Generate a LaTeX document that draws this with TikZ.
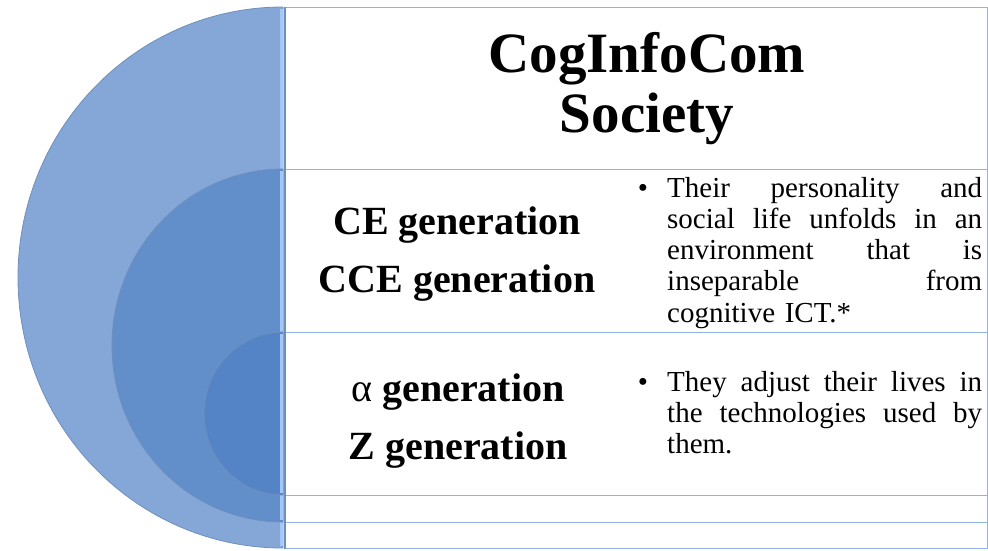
\documentclass[tikz,border=0pt]{standalone}
\usepackage{fontspec}
\setmainfont{Liberation Serif}
\definecolor{outerblue}{HTML}{84A7D7}
\definecolor{midblue}{HTML}{628FCA}
\definecolor{innerblue}{HTML}{5484C6}
\definecolor{rimblue}{HTML}{A6C6F5}
\definecolor{edgeblue}{HTML}{6E8FBD}
\definecolor{boxline}{HTML}{8FB4E3}
\newcommand{\jline}[1]{\makebox[315pt][l]{#1}\\}

\begin{document}
\begin{tikzpicture}[x=1pt,y=-1pt,
		ring/.style={draw=edgeblue,line width=0.8pt},
		rim/.style={fill=rimblue},
		row/.style={draw=boxline,line width=1.2pt,fill=white,anchor=north west,minimum width=702pt,inner sep=0pt},
		title/.style={font=\fontsize{57}{60}\selectfont\bfseries,align=center,anchor=base,inner sep=0pt},
		gen/.style={font=\fontsize{40}{58}\selectfont\bfseries,align=center,anchor=base,inner sep=0pt},
		txt/.style={font=\fontsize{29}{31.3}\selectfont,text width=315pt,align=left,anchor=base west,inner sep=0pt},
		dot/.style={font=\fontsize{29}{31.3}\selectfont,anchor=base,inner sep=0pt}]
	\useasboundingbox (0,0) rectangle (988,550);
	% nested half discs
	\path[ring,fill=outerblue] (283,7) arc[start angle=90,end angle=270,x radius=265pt,y radius=270.5pt] -- cycle;
	\fill[rim] (280,9) rectangle (283,546);
	\path[ring,fill=midblue] (283,169) arc[start angle=90,end angle=270,x radius=171pt,y radius=176.5pt] -- cycle;
	\fill[rim] (280,171) rectangle (283,520);
	\path[ring,fill=innerblue] (283,332) arc[start angle=90,end angle=270,x radius=79pt,y radius=81.5pt] -- cycle;
	\fill[rim] (280,334) rectangle (283,493);
	% rows
	\node[row,minimum height=162pt] (society) at (285,7) {};
	\node[row,minimum height=163pt] (cerow) at (285,169) {};
	\node[row,minimum height=163pt] (alpharow) at (285,332) {};
	\node[row,minimum height=27pt] (fourrow) at (285,495) {};
	\node[row,minimum height=26pt] (fiverow) at (285,522) {};
	\draw[edgeblue,line width=1.5pt] (society.north west) -- (fiverow.south west);
	% texts
	\node[title] (societytext) at (647,132) {CogInfoCom\\Society};
	\node[gen] (cetext) at (457,292) {CE generation\\CCE generation};
	\node[gen] (alphatext) at (458,459) {{\mdseries α} generation\\Z generation};
	\node[dot] (cedot) at (643,197) {•};
	\node[txt] (ceinfo) at (667,197) {\jline{Their\hfill personality\hfill and}\jline{social\hfill life\hfill unfolds\hfill in\hfill an}\jline{environment\hfill that\hfill is}\jline{inseparable\hfill from}cognitive ICT.*};
	\node[dot] (alphadot) at (643,391) {•};
	\node[txt] (alphainfo) at (667,391) {\jline{They\hfill adjust\hfill their\hfill lives\hfill in}\jline{the\hfill technologies\hfill used\hfill by}them.};
\end{tikzpicture}
\end{document}
